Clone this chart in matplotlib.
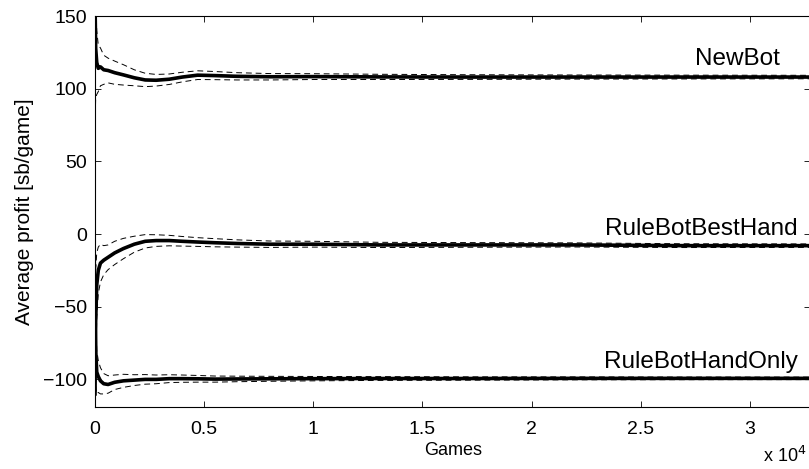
import matplotlib
matplotlib.use("Agg")
import matplotlib.pyplot as plt

plt.rcParams['font.family'] = ['Liberation Sans', 'DejaVu Sans']

games = [0, 30, 80, 150, 250, 400, 600, 900, 1300, 1800, 2300, 2800, 3400, 4000,
         4700, 5500, 6500, 8000, 10000, 13000, 17000, 22000, 27000, 32768]

newbot_mean = [160, 128, 118, 114, 115, 113, 112.5, 111, 109.5, 107.5, 106, 105.8, 106.5, 108,
               109.3, 109, 108.5, 108.2, 108.3, 108.1, 108, 108, 108, 108]
newbot_upper = [170, 163, 140, 130, 128, 123, 121, 119, 116.5, 113, 110.6, 109.8, 110.1, 111.3,
                112.3, 111.8, 111, 110.4, 110.3, 109.9, 109.6, 109.4, 109.3, 109.2]
newbot_lower = [75, 93, 96, 98, 102, 103, 104, 103, 102.5, 102, 101.4, 101.8, 102.9, 104.7,
                106.3, 106.2, 106, 106, 106.3, 106.3, 106.4, 106.6, 106.7, 106.8]

best_mean = [-110, -60, -35, -25, -20, -18, -16, -13, -10, -7, -5, -4.5, -4.5, -5,
             -5.5, -6, -6.5, -7, -7, -7.5, -7.5, -7.5, -8, -8]
best_upper = [15, -25, -13, -9, -7, -8, -7.5, -5, -3, -1.5, -0.4, -0.5, -0.9, -1.7,
              -2.5, -3.2, -4, -4.8, -5, -5.7, -5.9, -6.1, -6.7, -6.8]
best_lower = [-119, -95, -57, -41, -33, -28, -24.5, -21, -17, -12.5, -9.6, -8.5, -8.1, -8.3,
              -8.5, -8.8, -9, -9.2, -9, -9.3, -9.1, -8.9, -9.3, -9.2]

hand_mean = [-60, -80, -95, -98, -101, -103, -103.5, -102, -101, -100.5, -100, -100, -99.5, -99.5,
             -99.6, -99.8, -99.7, -99.6, -99.5, -99.4, -99.4, -99.3, -99.3, -99.3]
hand_upper = [-30, -55, -80, -87, -92, -96, -97.5, -97, -96.5, -96.8, -96.7, -97, -96.8, -97,
              -97.3, -97.7, -97.8, -97.9, -98, -98.1, -98.25, -98.3, -98.4, -98.45]
hand_lower = [-119, -105, -110, -109, -110, -110, -109.5, -107, -105.5, -104.2, -103.3, -103, -102.2, -102,
              -101.9, -101.9, -101.6, -101.3, -101, -100.7, -100.55, -100.3, -100.2, -100.15]

labels = ["NewBot", "RuleBotBestHand", "RuleBotHandOnly"]
xticks = [0, 5000, 10000, 15000, 20000, 25000, 30000]
xticklabels = ["0", "0.5", "1", "1.5", "2", "2.5", "3"]
yticks = [-100, -50, 0, 50, 100, 150]
yticklabels = ["\u2212100", "\u221250", "0", "50", "100", "150"]

fig = plt.figure(figsize=(8.09, 4.69), dpi=100)
ax = fig.add_axes([95/809, 1 - 407/469, (810.4 - 95)/809, (407 - 16)/469])

series = [(newbot_mean, newbot_upper, newbot_lower),
          (best_mean, best_upper, best_lower),
          (hand_mean, hand_upper, hand_lower)]
for m, u, l in series:
    ax.plot(games, u, color='black', lw=0.7, dashes=(6, 4))
    ax.plot(games, l, color='black', lw=0.7, dashes=(6, 4))
    ax.plot(games, m, color='black', lw=2.6, solid_joinstyle='round')

ax.set_xlim(0, 32768)
ax.set_ylim(-119, 150)
ax.set_xticks(xticks)
ax.set_xticklabels(xticklabels)
ax.set_yticks(yticks)
ax.set_yticklabels(yticklabels)
ax.tick_params(direction='in', length=4, width=0.6, labelsize=14,
               top=True, right=True, pad=6)
ax.tick_params(axis='x', pad=10)
for s in ax.spines.values():
    s.set_linewidth(0.8)

ax.set_xlabel("Games", fontsize=13, labelpad=3)
ax.set_ylabel("Average profit [sb/game]", fontsize=15, labelpad=6)

ax.text(27480, 116.3, labels[0], fontsize=17.5, ha='left', va='baseline')
ax.text(32200, -0.7, labels[1], fontsize=17.5, ha='right', va='baseline')
ax.text(32200, -92.2, labels[2], fontsize=17.5, ha='right', va='baseline')

fig.text(763/809, 1 - 466/469, "x 10$^4$", fontsize=13, ha='left', va='bottom')

fig.savefig("out.png", dpi=100)
